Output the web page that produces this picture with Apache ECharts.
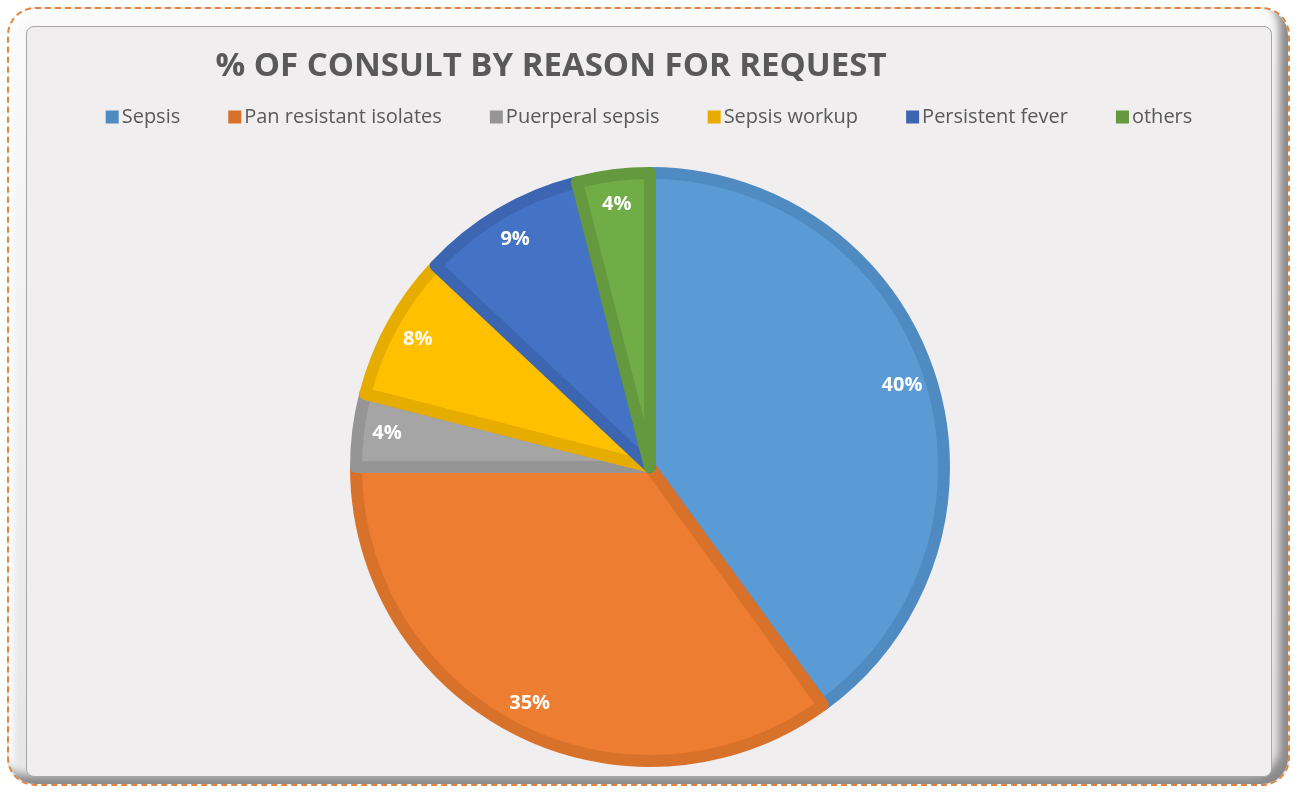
<!DOCTYPE html>
<html>
<head>
<meta charset="utf-8">
<script src="https://cdn.jsdelivr.net/npm/echarts@6/dist/echarts.min.js"></script>
<style>
  html, body { margin: 0; padding: 0; background: #fff; }
  #frame {
    position: absolute; left: 7px; top: 7px; width: 1279px; height: 775px;
    border: 2px dashed #e0843e; border-radius: 28px;
    background: linear-gradient(#fafafa, #e6e6e6);
    box-shadow: inset -9px -9px 9px #8a8a8a, inset 4px 4px 6px #fff;
  }
  #panel {
    position: absolute; left: 26px; top: 26px; width: 1244px; height: 749px;
    background: #f0eeef; border: 1px solid #a6a6a6; border-radius: 8px;
  }
  #main { position: absolute; left: 0; top: 0; width: 1298px; height: 793px; }
</style>
</head>
<body>
<div id="frame"></div>
<div id="panel"></div>
<div id="main"></div>
<script>
// 类别与数值
var categories = ['Sepsis', 'Pan resistant isolates', 'Puerperal sepsis', 'Sepsis workup', 'Persistent fever', 'others'];
var values = [40, 35, 4, 8, 9, 4];
var fillColors = ['#5b9bd5', '#ed7d31', '#a5a5a5', '#ffc000', '#4472c4', '#70ad47'];
var borderColors = ['#4f8bc1', '#d8722b', '#959595', '#e6ad00', '#3c66b1', '#64993f'];

var chart = echarts.init(document.getElementById('main'));

var pieData = categories.map(function (name, i) {
  return {
    name: name,
    value: values[i],
    itemStyle: { color: fillColors[i], borderColor: borderColors[i] }
  };
});

// 标签层（透明环形，用来把标签放到靠外的位置）
var labelData = categories.map(function (name, i) {
  return { name: name, value: values[i] };
});

var option = {
  animation: false,
  title: {
    text: '% OF CONSULT BY REASON FOR REQUEST',
    left: 546,
    textAlign: 'center',
    top: 45,
    textStyle: {
      fontFamily: 'Open Sans',
      fontWeight: 'bold',
      fontSize: 33,
      color: '#595959'
    }
  },
  legend: {
    top: 102,
    left: 'center',
    itemWidth: 13,
    itemHeight: 13,
    itemGap: 48,
    icon: 'rect',
    textStyle: { fontFamily: 'Open Sans', fontSize: 20, color: '#595959', padding: [0, 0, 0, -2] },
    data: categories.map(function (name, i) {
      return { name: name, itemStyle: { color: borderColors[i], borderWidth: 0 } };
    })
  },
  series: [
    {
      type: 'pie',
      center: [650, 467],
      radius: 294,
      startAngle: 90,
      clockwise: true,
      silent: true,
      label: { show: false },
      labelLine: { show: false },
      itemStyle: { borderWidth: 12 },
      data: pieData
    },
    {
      type: 'pie',
      center: [650, 467],
      radius: [224, 300],
      startAngle: 90,
      clockwise: true,
      silent: true,
      legendHoverLink: false,
      itemStyle: { color: 'rgba(0,0,0,0)' },
      label: {
        show: true,
        position: 'inside',
        formatter: '{c}%',
        color: '#fff',
        fontFamily: 'Open Sans',
        fontWeight: 'bold',
        fontSize: 20
      },
      labelLine: { show: false },
      data: labelData
    }
  ]
};

chart.setOption(option);
</script>
</body>
</html>
